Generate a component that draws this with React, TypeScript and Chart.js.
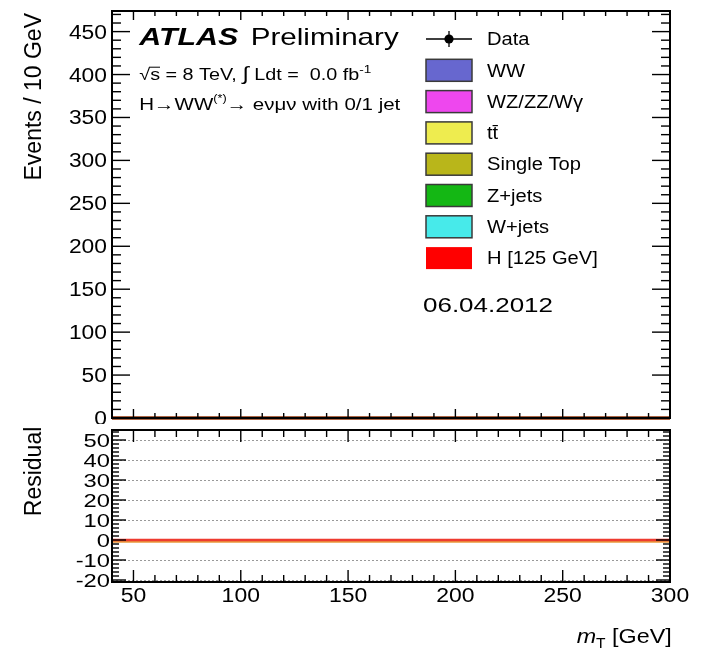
import React, { useEffect, useRef } from "react";
import { Chart, registerables } from "chart.js";

Chart.register(...registerables);

// ---------------- DATA ----------------
// m_T bin edges (10 GeV bins, 40-300 GeV)
const binEdges = [40, 50, 60, 70, 80, 90, 100, 110, 120, 130, 140, 150, 160, 170, 180, 190, 200, 210, 220, 230, 240, 250, 260, 270, 280, 290, 300];

// events per bin (0.0 fb^-1 -> empty)
const dataEvents = [0, 0, 0, 0, 0, 0, 0, 0, 0, 0, 0, 0, 0, 0, 0, 0, 0, 0, 0, 0, 0, 0, 0, 0, 0, 0];
const wwEvents = [0, 0, 0, 0, 0, 0, 0, 0, 0, 0, 0, 0, 0, 0, 0, 0, 0, 0, 0, 0, 0, 0, 0, 0, 0, 0];
const dibosonEvents = [0, 0, 0, 0, 0, 0, 0, 0, 0, 0, 0, 0, 0, 0, 0, 0, 0, 0, 0, 0, 0, 0, 0, 0, 0, 0];
const ttbarEvents = [0, 0, 0, 0, 0, 0, 0, 0, 0, 0, 0, 0, 0, 0, 0, 0, 0, 0, 0, 0, 0, 0, 0, 0, 0, 0];
const singleTopEvents = [0, 0, 0, 0, 0, 0, 0, 0, 0, 0, 0, 0, 0, 0, 0, 0, 0, 0, 0, 0, 0, 0, 0, 0, 0, 0];
const zjetsEvents = [0, 0, 0, 0, 0, 0, 0, 0, 0, 0, 0, 0, 0, 0, 0, 0, 0, 0, 0, 0, 0, 0, 0, 0, 0, 0];
const wjetsEvents = [0, 0, 0, 0, 0, 0, 0, 0, 0, 0, 0, 0, 0, 0, 0, 0, 0, 0, 0, 0, 0, 0, 0, 0, 0, 0];
const higgsEvents = [0, 0, 0, 0, 0, 0, 0, 0, 0, 0, 0, 0, 0, 0, 0, 0, 0, 0, 0, 0, 0, 0, 0, 0, 0, 0];

// residual panel
const residualValues = [0, 0, 0, 0, 0, 0, 0, 0, 0, 0, 0, 0, 0, 0, 0, 0, 0, 0, 0, 0, 0, 0, 0, 0, 0, 0];
const residualBandHigh = [0, 0, 0, 0, 0, 0, 0, 0, 0, 0, 0, 0, 0, 0, 0, 0, 0, 0, 0, 0, 0, 0, 0, 0, 0, 0];
const residualBandLow = [-1.4, -1.4, -1.4, -1.4, -1.4, -1.4, -1.4, -1.4, -1.4, -1.4, -1.4, -1.4, -1.4, -1.4, -1.4, -1.4, -1.4, -1.4, -1.4, -1.4, -1.4, -1.4, -1.4, -1.4, -1.4, -1.4];

// tick labels
const xTickLabels = [50, 100, 150, 200, 250, 300];
const yTopTickLabels = [0, 50, 100, 150, 200, 250, 300, 350, 400, 450];
const yResTickLabels = [-20, -10, 0, 10, 20, 30, 40, 50];

// legend
const dataLabel = "Data";
const seriesNames = ["WW", "WZ/ZZ/W\u03b3", "t\u0074\u0304", "Single Top", "Z+jets", "W+jets", "H [125 GeV]"];
const seriesColors = ["#6767CF", "#EE47EE", "#EEEC4F", "#B9B61A", "#14B714", "#47EAEA", "#FF0000"];
const seriesValues = [wwEvents, dibosonEvents, ttbarEvents, singleTopEvents, zjetsEvents, wjetsEvents, higgsEvents];

// ---------------- HELPERS ----------------
const FAMILY = '"Liberation Sans", Arial, Helvetica, "DejaVu Sans", sans-serif';
const CAP = 0.716;

function stepPoints(values: number[]) {
  return binEdges.map((e, i) => ({ x: e, y: values[Math.min(i, values.length - 1)] }));
}

type Piece = { t: string; size: number; dy?: number; style?: string; overline?: boolean };

function drawPieces(
  ctx: CanvasRenderingContext2D,
  pieces: Piece[],
  x: number,
  y: number,
  opts: { width?: number; sx?: number; align?: "left" | "right" | "center" }
) {
  let total = 0;
  const widths: number[] = [];
  for (const p of pieces) {
    ctx.font = `${p.style ? p.style + " " : ""}${p.size}px ${FAMILY}`;
    const w = ctx.measureText(p.t).width;
    widths.push(w);
    total += w;
  }
  const s = opts.width ? opts.width / total : opts.sx ?? 1;
  let startX = x;
  if (opts.align === "right") startX = x - total * s;
  else if (opts.align === "center") startX = x - (total * s) / 2;
  ctx.save();
  ctx.translate(startX, y);
  ctx.scale(s, 1);
  ctx.fillStyle = "#000";
  ctx.textAlign = "left";
  ctx.textBaseline = "alphabetic";
  let cx = 0;
  pieces.forEach((p, i) => {
    ctx.font = `${p.style ? p.style + " " : ""}${p.size}px ${FAMILY}`;
    ctx.fillText(p.t, cx, p.dy ?? 0);
    if (p.overline) {
      ctx.save();
      ctx.strokeStyle = "#000";
      ctx.lineWidth = 1;
      ctx.beginPath();
      const oy = (p.dy ?? 0) - p.size * 0.8;
      ctx.moveTo(cx - 1, oy);
      ctx.lineTo(cx + widths[i], oy);
      ctx.stroke();
      ctx.restore();
    }
    cx += widths[i];
  });
  ctx.restore();
}

function drawRotated(ctx: CanvasRenderingContext2D, text: string, baselineX: number, topY: number, size: number) {
  ctx.save();
  ctx.translate(baselineX, topY);
  ctx.rotate(-Math.PI / 2);
  ctx.font = `${size}px ${FAMILY}`;
  ctx.fillStyle = "#000";
  ctx.textAlign = "right";
  ctx.textBaseline = "alphabetic";
  ctx.fillText(text, 0, 0);
  ctx.restore();
}

type FrameCfg = {
  xMinor: number;
  yMinor: number;
  xMajor: number[];
  yMajor: number[];
  xMajLen: number;
  xMinLen: number;
  yMajLen: number;
  yMinLen: number;
  yLabelRight: number;
  yLabelSize: number;
  yLabelSx: number;
  xLabels?: { baseline: number; size: number; sx: number };
  grid?: number[];
};

function framePlugin(id: string, cfg: FrameCfg) {
  return {
    id,
    beforeDatasetsDraw(chart: any) {
      if (!cfg.grid) return;
      const { ctx, chartArea } = chart;
      const ys = chart.scales.y;
      ctx.save();
      ctx.strokeStyle = "#999999";
      ctx.lineWidth = 1;
      ctx.setLineDash([2, 2]);
      for (const v of cfg.grid) {
        const py = Math.round(ys.getPixelForValue(v)) + 0.5;
        ctx.beginPath();
        ctx.moveTo(chartArea.left, py);
        ctx.lineTo(chartArea.right, py);
        ctx.stroke();
      }
      ctx.restore();
    },
    afterDatasetsDraw(chart: any) {
      const { ctx, chartArea } = chart;
      const { left, right, top, bottom } = chartArea;
      const xs = chart.scales.x;
      const ys = chart.scales.y;
      ctx.save();
      ctx.strokeStyle = "#000";
      ctx.lineWidth = 1.4;
      const seg = (a: number, b: number, c: number, d: number) => {
        ctx.beginPath();
        ctx.moveTo(a, b);
        ctx.lineTo(c, d);
        ctx.stroke();
      };
      // x ticks (bottom and top)
      const x0 = Math.ceil(xs.min / cfg.xMinor) * cfg.xMinor;
      for (let v = x0; v <= xs.max + 1e-6; v += cfg.xMinor) {
        const major = cfg.xMajor.includes(Math.round(v));
        const len = major ? cfg.xMajLen : cfg.xMinLen;
        const px = xs.getPixelForValue(v);
        seg(px, bottom, px, bottom - len);
        seg(px, top, px, top + len);
      }
      // y ticks (left and right)
      const y0 = Math.ceil(ys.min / cfg.yMinor) * cfg.yMinor;
      for (let v = y0; v <= ys.max + 1e-6; v += cfg.yMinor) {
        const major = cfg.yMajor.includes(Math.round(v));
        const len = major ? cfg.yMajLen : cfg.yMinLen;
        const py = ys.getPixelForValue(v);
        seg(left, py, left + len, py);
        seg(right, py, right - len, py);
      }
      // frame
      ctx.lineWidth = 2;
      ctx.strokeRect(left, top, right - left, bottom - top);
      ctx.restore();

      // y labels
      for (const v of cfg.yMajor) {
        const py = ys.getPixelForValue(v);
        drawPieces(ctx, [{ t: String(v), size: cfg.yLabelSize }], cfg.yLabelRight, py + (cfg.yLabelSize * CAP) / 2, {
          sx: cfg.yLabelSx,
          align: "right",
        });
      }
      // x labels
      if (cfg.xLabels) {
        for (const v of cfg.xMajor) {
          const px = xs.getPixelForValue(v);
          drawPieces(ctx, [{ t: String(v), size: cfg.xLabels.size }], px, cfg.xLabels.baseline, {
            sx: cfg.xLabels.sx,
            align: "center",
          });
        }
      }
    },
  };
}

// redraw the topmost histogram outline (H) over the frame's bottom edge like ROOT does
const topTextPlugin = {
  id: "topText",
  afterDraw(chart: any) {
    const ctx: CanvasRenderingContext2D = chart.ctx;
    drawRotated(ctx, "Events / 10 GeV", 41, 13, 23);
    drawPieces(ctx, [{ t: "ATLAS", size: 24.5, style: "italic bold" }], 139.3, 45, { width: 99 });
    drawPieces(ctx, [{ t: "Preliminary", size: 24 }], 250.7, 45, { width: 148 });
    drawPieces(
      ctx,
      [
        { t: "\u221a", size: 16 },
        { t: "s", size: 16, overline: true },
        { t: " = 8 TeV, ", size: 16 },
        { t: "\u222b", size: 19 },
        { t: " Ldt =  0.0 fb", size: 16 },
        { t: "-1", size: 11, dy: -7 },
      ],
      139.3,
      80,
      { width: 232 }
    );
    drawPieces(
      ctx,
      [
        { t: "H\u2192WW", size: 17 },
        { t: "(*)", size: 10.5, dy: -8 },
        { t: "\u2192 e\u03bd\u03bc\u03bd with 0/1 jet", size: 17 },
      ],
      139.3,
      110,
      { width: 261 }
    );
    drawPieces(ctx, [{ t: "06.04.2012", size: 21 }], 423, 312, { width: 130 });

    // legend
    const rowY = (k: number) => 39 + k * 31.3;
    const boxL = 426;
    const boxW = 46;
    const boxH = 22;
    const textX = 487;
    const fs = 17.5;
    // data marker
    ctx.save();
    ctx.strokeStyle = "#000";
    ctx.fillStyle = "#000";
    ctx.lineWidth = 1.3;
    ctx.beginPath();
    ctx.moveTo(boxL, rowY(0));
    ctx.lineTo(boxL + boxW, rowY(0));
    ctx.moveTo(boxL + boxW / 2, rowY(0) - 8);
    ctx.lineTo(boxL + boxW / 2, rowY(0) + 8);
    ctx.stroke();
    ctx.beginPath();
    ctx.arc(boxL + boxW / 2, rowY(0), 4.6, 0, Math.PI * 2);
    ctx.fill();
    ctx.restore();
    drawPieces(ctx, [{ t: dataLabel, size: fs }], textX, rowY(0) + (fs * CAP) / 2, { sx: 1.15 });
    seriesNames.forEach((name, i) => {
      const cy = rowY(i + 1);
      ctx.save();
      ctx.fillStyle = seriesColors[i];
      ctx.fillRect(boxL, cy - boxH / 2, boxW, boxH);
      if (i < seriesNames.length - 1) {
        ctx.strokeStyle = "#3a3a3a";
        ctx.lineWidth = 1.5;
        ctx.strokeRect(boxL, cy - boxH / 2, boxW, boxH);
      }
      ctx.restore();
      drawPieces(ctx, [{ t: name, size: fs }], textX, cy + (fs * CAP) / 2, { sx: 1.15 });
    });
  },
};

const bottomTextPlugin = {
  id: "bottomText",
  afterDraw(chart: any) {
    const ctx: CanvasRenderingContext2D = chart.ctx;
    drawRotated(ctx, "Residual", 40.7, 2.7, 23);
    drawPieces(
      ctx,
      [
        { t: "m", size: 21, style: "italic" },
        { t: "T", size: 14, dy: 5 },
        { t: " [GeV]", size: 21 },
      ],
      671.7,
      219,
      { width: 95, align: "right" }
    );
  },
};

export default function App() {
  const topRef = useRef<HTMLCanvasElement>(null);
  const botRef = useRef<HTMLCanvasElement>(null);

  useEffect(() => {
    const commonOpts = {
      responsive: false,
      animation: false as const,
      devicePixelRatio: 1,
      events: [] as any[],
      plugins: { legend: { display: false }, tooltip: { enabled: false }, title: { display: false } },
      elements: { point: { radius: 0 } },
    };

    // Chart.js draws the first dataset on top: put H first, WW last
    const topDatasets: any[] = [];
    topDatasets.push({
      label: dataLabel,
      data: stepPoints(dataEvents),
      showLine: false,
      pointRadius: 0,
      borderColor: "#000",
      clip: false,
    });
    for (let i = seriesValues.length - 1; i >= 0; i--) {
      topDatasets.push({
        label: seriesNames[i],
        data: stepPoints(seriesValues[i]),
        borderColor: seriesColors[i],
        backgroundColor: seriesColors[i],
        borderWidth: 3,
        stepped: "after",
        fill: false,
        clip: false,
        pointRadius: 0,
      });
    }

    const c1 = new Chart(topRef.current!, {
      type: "line",
      data: { datasets: topDatasets },
      options: {
        ...commonOpts,
        layout: { padding: { left: 112, right: 41, top: 11, bottom: 6 } },
        scales: {
          x: { type: "linear", min: 40, max: 300, display: false },
          y: { type: "linear", min: 0, max: 474, display: false },
        },
      } as any,
      plugins: [
        framePlugin("frameTop", {
          xMinor: 10,
          yMinor: 10,
          xMajor: xTickLabels,
          yMajor: yTopTickLabels,
          xMajLen: 9,
          xMinLen: 5,
          yMajLen: 18,
          yMinLen: 9,
          yLabelRight: 107,
          yLabelSize: 19.5,
          yLabelSx: 1.17,
        }),
        topTextPlugin,
      ],
    });

    const c2 = new Chart(botRef.current!, {
      type: "line",
      data: {
        datasets: [
          {
            label: "residual",
            data: stepPoints(residualValues),
            borderWidth: 2.5,
            borderColor: "#EE3B30",
            stepped: "after",
            fill: false,
            clip: false,
            pointRadius: 0,
          },
          {
            label: "band low",
            data: stepPoints(residualBandLow),
            borderWidth: 0,
            borderColor: "rgba(0,0,0,0)",
            backgroundColor: "#E89A3C",
            stepped: "after",
            fill: "+1",
            clip: false,
            pointRadius: 0,
          },
          {
            label: "band high",
            data: stepPoints(residualBandHigh),
            borderWidth: 0,
            borderColor: "rgba(0,0,0,0)",
            backgroundColor: "#E89A3C",
            stepped: "after",
            fill: false,
            clip: false,
            pointRadius: 0,
          },
        ] as any[],
      },
      options: {
        ...commonOpts,
        layout: { padding: { left: 112, right: 41, top: 6, bottom: 73 } },
        scales: {
          x: { type: "linear", min: 40, max: 300, display: false },
          y: { type: "linear", min: -21, max: 55, display: false },
        },
      } as any,
      plugins: [
        framePlugin("frameBottom", {
          xMinor: 10,
          yMinor: 2,
          xMajor: xTickLabels,
          yMajor: yResTickLabels,
          xMajLen: 12,
          xMinLen: 7,
          yMajLen: 14,
          yMinLen: 7,
          yLabelRight: 110,
          yLabelSize: 19,
          yLabelSx: 1.25,
          xLabels: { baseline: 178, size: 20.5, sx: 1.12 },
          grid: yResTickLabels,
        }),
        bottomTextPlugin,
      ],
    });

    return () => {
      c1.destroy();
      c2.destroy();
    };
  }, []);

  return (
    <div
      style={{
        position: "absolute",
        left: 0,
        top: 0,
        width: 711,
        height: 655,
        background: "#fff",
        overflow: "hidden",
      }}
    >
      <canvas
        ref={topRef}
        width={711}
        height={424}
        style={{ position: "absolute", left: 0, top: 0, width: 711, height: 424 }}
      />
      <canvas
        ref={botRef}
        width={711}
        height={231}
        style={{ position: "absolute", left: 0, top: 424, width: 711, height: 231 }}
      />
    </div>
  );
}
